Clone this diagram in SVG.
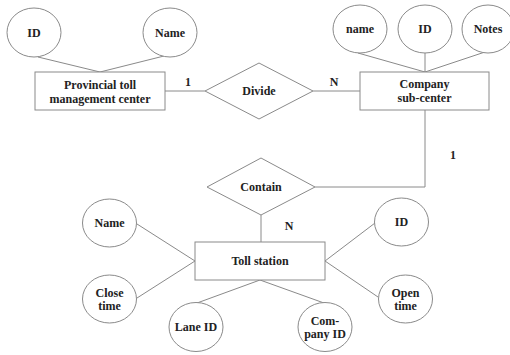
<svg xmlns="http://www.w3.org/2000/svg" width="510" height="355" viewBox="0 0 510 355">
<style>
.s{fill:#fff;stroke:#8a8a8a;stroke-width:1}
.c line,.c polyline{stroke:#8a8a8a;stroke-width:1;fill:none}
text{font-family:"Liberation Serif","Times New Roman",serif;font-weight:bold;font-size:12px;fill:#222;text-anchor:middle;dominant-baseline:central}
</style>
<rect width="510" height="355" fill="#fff"/>
<g class="c" id="connectors">
<line x1="38" y1="57" x2="100" y2="72"/>
<line x1="164" y1="56" x2="100" y2="72"/>
<line x1="165" y1="91" x2="205" y2="91"/>
<line x1="313" y1="91" x2="360" y2="91"/>
<line x1="358" y1="53" x2="425" y2="72"/>
<line x1="425" y1="53" x2="425" y2="72"/>
<line x1="488" y1="51" x2="425" y2="72"/>
<polyline points="425,110 425,187 315,187"/>
<line x1="261" y1="215" x2="261" y2="242"/>
<line x1="137" y1="224" x2="195" y2="261"/>
<line x1="137" y1="298" x2="195" y2="261"/>
<line x1="197" y1="303" x2="260" y2="280"/>
<line x1="324" y1="303" x2="260" y2="280"/>
<line x1="325" y1="261" x2="375" y2="223"/>
<line x1="325" y1="261" x2="378" y2="297"/>
<text x="188" y="82">1</text>
<text x="334" y="82">N</text>
<text x="453" y="155">1</text>
<text x="289" y="226">N</text>
</g>
<g id="provincial"><rect class="s" x="35" y="72" width="130" height="38"/><text x="100" y="85">Provincial toll</text><text x="100" y="99">management center</text></g>
<g id="p-id"><ellipse class="s" cx="34" cy="32.5" rx="27" ry="24.5"/><text x="34" y="33">ID</text></g>
<g id="p-name"><ellipse class="s" cx="170" cy="32.5" rx="27" ry="24.5"/><text x="170" y="33">Name</text></g>
<g id="divide"><polygon class="s" points="205,91 259,63 313,91 259,119"/><text x="259" y="91">Divide</text></g>
<g id="company"><rect class="s" x="360" y="72" width="129" height="38"/><text x="424.5" y="84">Company</text><text x="424.5" y="98">sub-center</text></g>
<g id="c-name"><ellipse class="s" cx="360" cy="29" rx="27" ry="24"/><text x="360" y="29">name</text></g>
<g id="c-id"><ellipse class="s" cx="425" cy="29" rx="27" ry="24"/><text x="425" y="29">ID</text></g>
<g id="c-notes"><ellipse class="s" cx="488" cy="29" rx="26" ry="24"/><text x="488" y="29">Notes</text></g>
<g id="contain"><polygon class="s" points="207,187 261,158 315,187 261,215"/><text x="261" y="187">Contain</text></g>
<g id="toll"><rect class="s" x="195" y="242" width="130" height="38"/><text x="260" y="261">Toll station</text></g>
<g id="t-name"><ellipse class="s" cx="109.5" cy="223" rx="27" ry="24"/><text x="109.5" y="223">Name</text></g>
<g id="t-close"><ellipse class="s" cx="109.5" cy="299" rx="27" ry="24"/><text x="109.5" y="293">Close</text><text x="109.5" y="306">time</text></g>
<g id="t-lane"><ellipse class="s" cx="196" cy="327" rx="27" ry="24.5"/><text x="196" y="327">Lane ID</text></g>
<g id="t-company"><ellipse class="s" cx="325" cy="327" rx="27" ry="24.5"/><text x="325" y="321">Com-</text><text x="325" y="334">pany ID</text></g>
<g id="t-id"><ellipse class="s" cx="401.5" cy="222" rx="27" ry="24"/><text x="401.5" y="222">ID</text></g>
<g id="t-open"><ellipse class="s" cx="405.5" cy="299" rx="27" ry="24"/><text x="405.5" y="293">Open</text><text x="405.5" y="306">time</text></g>
</svg>
